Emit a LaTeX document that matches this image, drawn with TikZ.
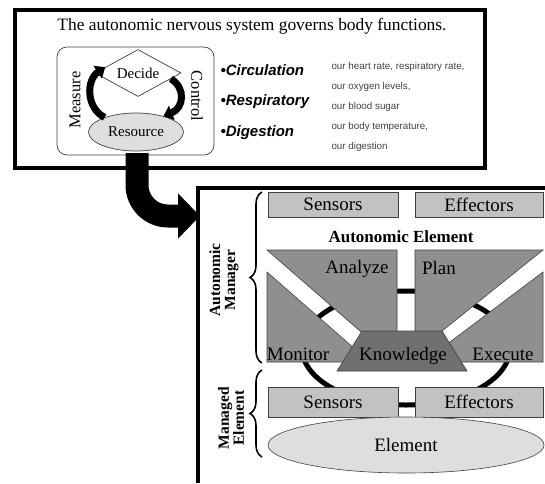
\documentclass[tikz,border=0pt]{standalone}
\usepackage{fontspec}
\setmainfont{Liberation Serif}
\newfontfamily\arialf{Liberation Sans}
\usetikzlibrary{arrows.meta,decorations.pathreplacing,shapes.geometric}

\definecolor{boxgray}{gray}{0.76}
\definecolor{blockgray}{gray}{0.56}
\definecolor{knowgray}{gray}{0.44}
\definecolor{lightfill}{gray}{0.87}
\definecolor{edgegray}{gray}{0.25}

\tikzset{
  framebox/.style={line width=4pt},
  roundbox/.style={draw=edgegray, line width=0.7pt, rounded corners=10pt},
  fatarrow/.style={line width=7pt, -{Triangle[length=9pt,width=15pt]}},
  bigarrow/.style={line width=23pt, -{Triangle[length=22pt,width=44pt]}},
  bullettext/.style={anchor=west, font=\arialf\bfseries\itshape\fontsize{15}{17}\selectfont},
  smalltext/.style={anchor=west, text=black!75, font=\arialf\fontsize{9.8}{11}\selectfont},
  interface/.style={draw=edgegray, line width=0.6pt, fill=boxgray, minimum height=25pt,
                    inner sep=0pt, font=\fontsize{19}{21}\selectfont},
  block/.style={draw=edgegray, line width=0.6pt, fill=blockgray},
  biglabel/.style={font=\fontsize{19}{21}\selectfont},
  sidelabel/.style={rotate=90, align=center, font=\bfseries\fontsize{15.5}{15}\selectfont},
  bracestyle/.style={decorate, decoration={brace, amplitude=12pt}, line width=1.6pt},
  ring/.style={line width=5pt},
}

\begin{document}
\begin{tikzpicture}[x=1pt,y=-1pt]
\useasboundingbox (0,0) rectangle (545,483);

% ---------- upper panel: the nervous system analogy ----------
\draw[framebox] (15,9.5) rectangle (485,167.5);
\node[font=\fontsize{17.4}{19}\selectfont] (title) at (252,26)
  {The autonomic nervous system governs body functions.};
\draw[roundbox] (57,47) rectangle (214,155);

\node[diamond, aspect=2, draw=edgegray, line width=0.7pt, fill=white,
      minimum width=86pt, minimum height=47pt, inner sep=0pt,
      font=\fontsize{15}{17}\selectfont] (decide) at (138,73) {Decide};
\node[ellipse, draw=edgegray, line width=0.7pt, fill=lightfill,
      minimum width=95pt, minimum height=38pt, inner sep=0pt,
      font=\fontsize{15}{17}\selectfont] (resource) at (136,132) {Resource};

\draw[fatarrow] (resource.155) .. controls (86,108) and (86,80) .. (decide.170);
\draw[fatarrow] (decide.-10) .. controls (186,88) and (184,108) .. (resource.30);

\node[rotate=90, font=\fontsize{16.5}{18}\selectfont] (measure) at (75,100) {Measure};
\node[rotate=-90, font=\fontsize{16.5}{18}\selectfont] (control) at (197,96) {Control};

\node[bullettext] (circ) at (217,70) {\textbullet Circulation};
\node[bullettext] (resp) at (217,102) {\textbullet Respiratory};
\node[bullettext] (dige) at (217,133) {\textbullet Digestion};

\node[smalltext] (t1) at (328,67) {our heart rate, respiratory rate,};
\node[smalltext] (t2) at (328,87) {our oxygen levels,};
\node[smalltext] (t3) at (328,107) {our blood sugar};
\node[smalltext] (t4) at (328,127) {our body temperature,};
\node[smalltext] (t5) at (328,147) {our digestion};

% ---------- connecting arrow ----------
\coordinate (arrowstart) at (137,153);
\coordinate (arrowtip) at (200,216);
\draw[bigarrow] (arrowstart) -- (137,185) arc[start angle=180, end angle=90, radius=31] -- (arrowtip);

% ---------- lower panel: the autonomic element ----------
\draw[line width=3.5pt] (198,483) -- (198,188) -- (545,188);

\node[interface, minimum width=130pt] (sens1) at (333,204.5) {Sensors};
\node[interface, minimum width=128pt] (effe1) at (479,204.5) {Effectors};
\node[font=\bfseries\fontsize{17}{19}\selectfont] (aetitle) at (401,237) {Autonomic Element};

% control loop ring, seen through the gaps between the blocks
\draw[ring] (406,348) ellipse [x radius=104, y radius=57];

% MAPE blocks
\filldraw[block] (267,250) -- (397,250) -- (397,335) -- (364.6,335) -- cycle;
\filldraw[block] (267,272) -- (355,349) -- (355,362) -- (267,362) -- cycle;
\filldraw[block] (415,250) -- (543,250) -- (437,335) -- (415,335) -- cycle;
\filldraw[block] (543,272) -- (440,349.5) -- (440,362) -- (543,362) -- cycle;
\filldraw[draw=edgegray, line width=0.6pt, fill=knowgray]
  (337,371) -- (362,331) -- (442,331) -- (467,371) -- cycle;

\node[biglabel] (analyze) at (357,269) {Analyze};
\node[biglabel] (plan) at (439,268) {Plan};
\node[biglabel] (monitor) at (298,354) {Monitor};
\node[biglabel] (execute) at (503,354) {Execute};
\node[biglabel] (know) at (403,356) {Knowledge};

% managed element
\node[interface, minimum width=130pt, minimum height=30pt] (sens2) at (333,402) {Sensors};
\node[interface, minimum width=128pt, minimum height=30pt] (effe2) at (479,402) {Effectors};
\node[ellipse, draw=edgegray, line width=0.6pt, fill=lightfill,
      minimum width=276pt, minimum height=56pt, inner sep=0pt,
      font=\fontsize{19}{21}\selectfont] (element) at (406,445) {Element};

% braces and side labels
\draw[bracestyle] (262,363) -- (262,192);
\draw[bracestyle] (262,457) -- (262,370);
\node[sidelabel] (amlabel) at (224,280) {Autonomic\\Manager};
\node[sidelabel] (melabel) at (231,418) {Managed\\Element};
\end{tikzpicture}
\end{document}
